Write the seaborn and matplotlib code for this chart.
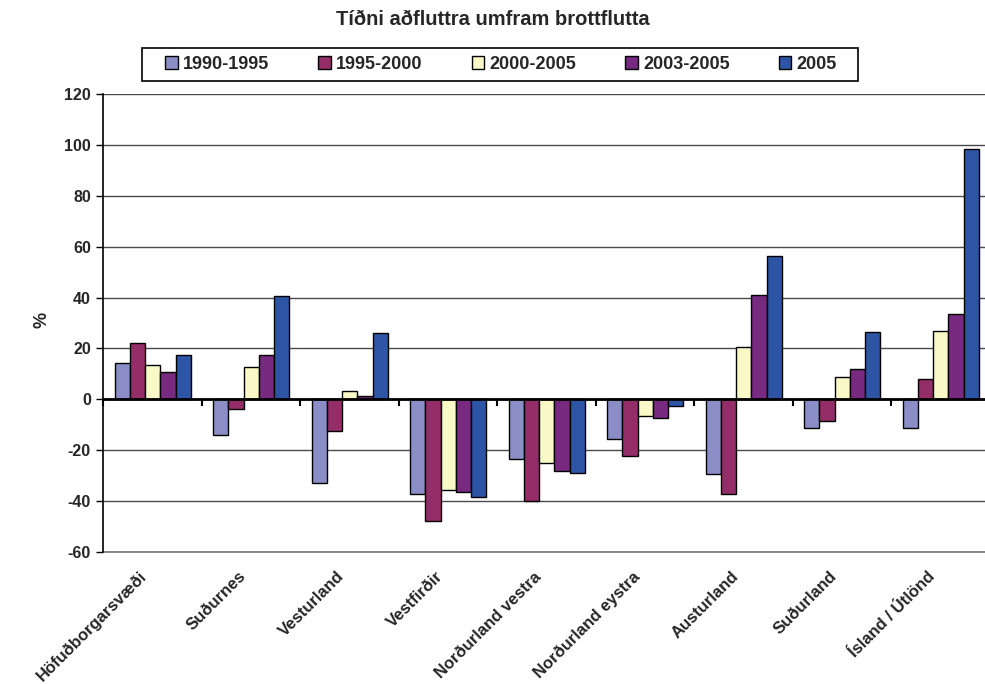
import matplotlib
matplotlib.use("Agg")
import matplotlib.pyplot as plt
import seaborn as sns
import pandas as pd
from matplotlib.patches import Rectangle

# ---- Data ----
regions = ["Höfuðborgarsvæði", "Suðurnes", "Vesturland", "Vestfirðir",
           "Norðurland vestra", "Norðurland eystra", "Austurland",
           "Suðurland", "Ísland / Útlönd"]
periods = ["1990-1995", "1995-2000", "2000-2005", "2003-2005", "2005"]

v_1990_1995 = [14.1, -14.2, -32.9, -37.4, -23.3, -15.7, -29.3, -11.4, -11.2]
v_1995_2000 = [22.2, -3.9, -12.4, -47.8, -40.1, -22.4, -37.4, -8.5, 8.0]
v_2000_2005 = [13.5, 12.8, 3.1, -35.8, -25.1, -6.5, 20.7, 8.6, 26.9]
v_2003_2005 = [10.7, 17.4, 1.3, -36.6, -28.2, -7.5, 40.9, 11.8, 33.7]
v_2005 = [17.6, 40.8, 26.1, -38.2, -28.8, -2.6, 56.5, 26.5, 98.3]

colors = ["#8B8EC6", "#952D68", "#F9F9C8", "#772A80", "#2E55A5"]

series = [v_1990_1995, v_1995_2000, v_2000_2005, v_2003_2005, v_2005]
rows = []
for period, vals in zip(periods, series):
    for region, v in zip(regions, vals):
        rows.append({"region": region, "period": period, "value": v})
df = pd.DataFrame(rows)

sns.set_style("white")
plt.rcParams["font.family"] = ["Liberation Sans", "DejaVu Sans"]
plt.rcParams["font.weight"] = "bold"
plt.rcParams["axes.unicode_minus"] = False

fig = plt.figure(figsize=(9.85, 6.84), dpi=100)
ax = fig.add_axes([0.105, 0.193, 0.900, 0.6696])

sns.barplot(data=df, x="region", y="value", hue="period", order=regions,
            hue_order=periods, palette=colors, saturation=1, width=0.775,
            edgecolor="black", linewidth=1, ax=ax, zorder=2)

ax.set_xlim(-0.5, len(regions) - 0.5)
ax.set_ylim(-60, 120)
ax.set_yticks(range(-60, 121, 20))
ax.yaxis.grid(True, color="#4a4a4a", lw=1)
ax.set_axisbelow(True)
ax.axhline(-60, color="#777777", lw=1.2, clip_on=False, zorder=1)
ax.tick_params(axis="y", direction="out", length=5, width=1, color="black",
               labelsize=11.5, pad=4, left=True)
for lbl in ax.get_yticklabels():
    lbl.set_fontweight("bold")

for s in ["top", "right"]:
    ax.spines[s].set_visible(False)
ax.spines["left"].set_color("black")
ax.spines["left"].set_linewidth(1.2)

# category axis line sits at zero, ticks between groups
ax.spines["bottom"].set_position(("data", 0))
ax.spines["bottom"].set_color("black")
ax.spines["bottom"].set_linewidth(2)
ax.spines["bottom"].set_zorder(3)
ax.set_xticks([i + 0.5 for i in range(-1, len(regions))])
ax.tick_params(axis="x", direction="out", length=5, width=1.5,
               color="black", labelbottom=False, bottom=True)

# category names below the plot, slanted
sec = ax.secondary_xaxis("bottom")
sec.set_xticks([i - 0.08 for i in range(len(regions))], labels=regions)
sec.spines["bottom"].set_visible(False)
sec.tick_params(axis="x", length=0, pad=16, labelsize=12)
for lbl in sec.get_xticklabels():
    lbl.set_rotation(45)
    lbl.set_ha("right")
    lbl.set_va("center")
    lbl.set_rotation_mode("anchor")
    lbl.set_fontweight("bold")

ax.set_xlabel("")
ax.set_ylabel("")
fig.text(0.043, 0.532, "%", rotation=90, ha="center", va="center",
         fontsize=13, fontweight="bold")

fig.text(0.5, 0.971, "Tíðni aðfluttra umfram brottflutta", ha="center",
         va="center", fontsize=14.5, fontweight="bold")

# legend: entries spread across the box, box drawn separately
handles, labels = ax.get_legend_handles_labels()
ax.legend_.remove()
leg = fig.legend(handles, labels, loc="center", ncol=5, mode="expand",
                 bbox_to_anchor=(165 / 985, 1 - 81 / 684, 672 / 985, 33 / 684),
                 frameon=False, fontsize=13,
                 handlelength=0.7, handleheight=0.7, handletextpad=0.3,
                 columnspacing=2.5, borderpad=0, borderaxespad=0)
for t in leg.get_texts():
    t.set_fontweight("bold")
fig.patches.append(Rectangle((142 / 985, 1 - 81 / 684), 716 / 985, 33 / 684,
                             transform=fig.transFigure, fill=False,
                             edgecolor="black", linewidth=1.2))

fig.savefig("out.png", dpi=100)
